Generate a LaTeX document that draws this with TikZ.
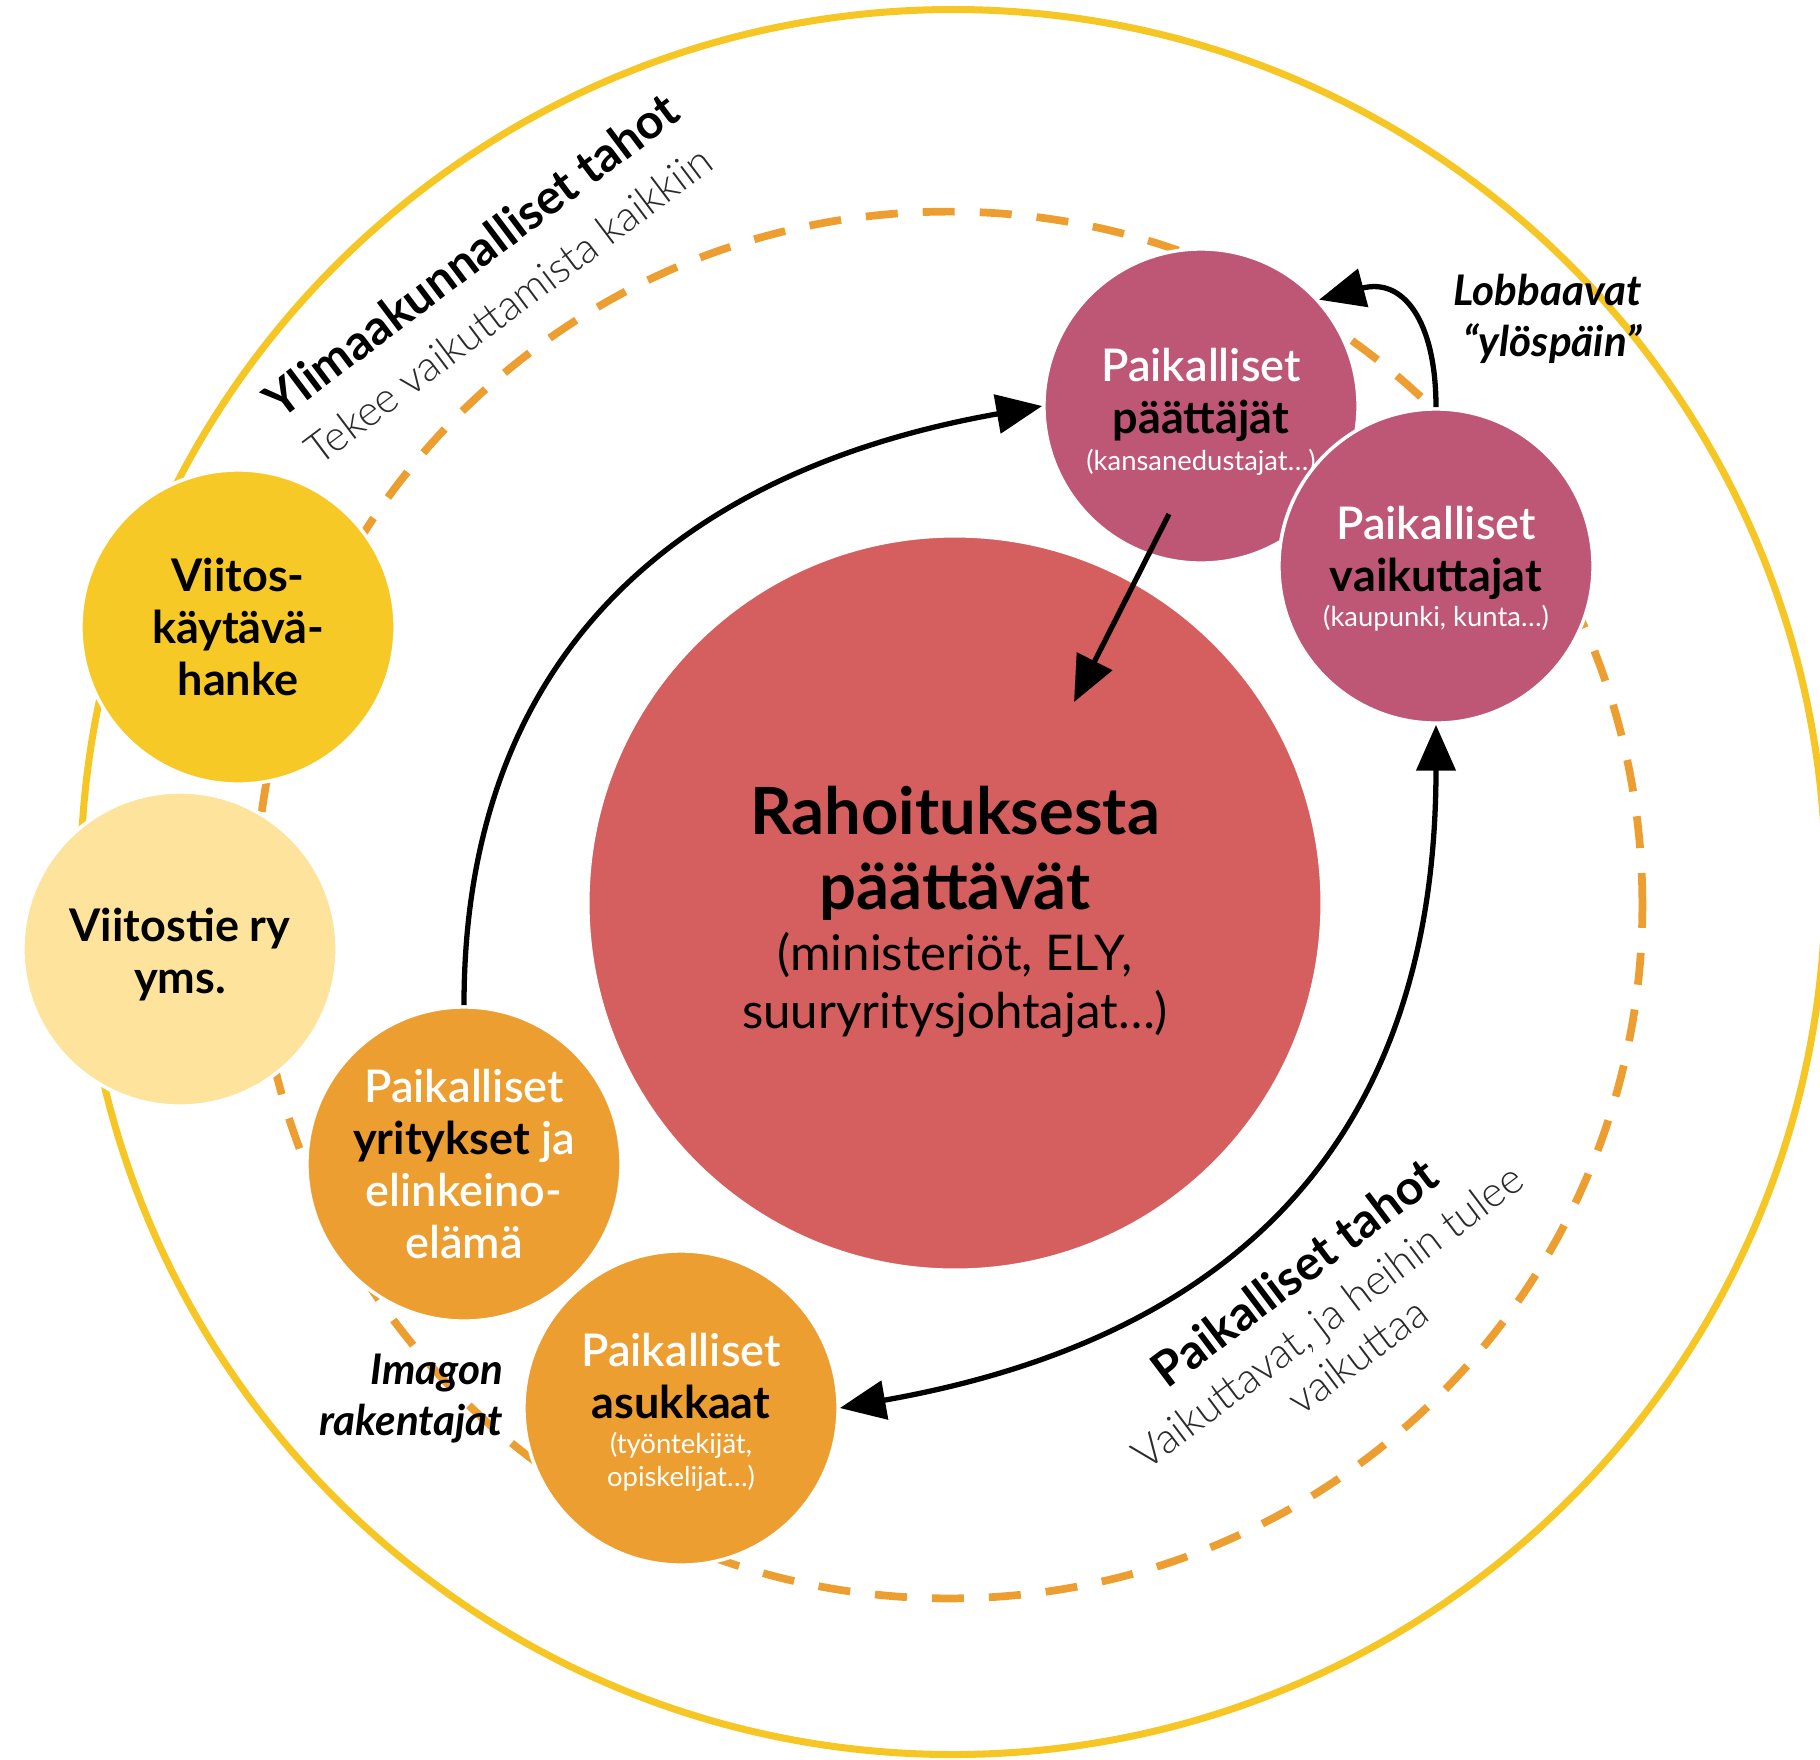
\documentclass[tikz,border=0pt]{standalone}
\usepackage{fontspec}
\setmainfont{Lato}
\IfFontExistsTF{Lato Light}{\newfontfamily\thinfont{Lato Light}}{\newcommand{\thinfont}{\mdseries}}
\IfFontExistsTF{Lato Semibold}{\newfontfamily\semifont{Lato Semibold}}{\newcommand{\semifont}{\mdseries}}
\usepackage{xcolor}
\usepackage{tikz}
\usetikzlibrary{arrows.meta}

\definecolor{rose}{HTML}{BE5676}
\definecolor{coral}{HTML}{D55E5E}
\definecolor{sun}{HTML}{F7C926}
\definecolor{pale}{HTML}{FDE39C}
\definecolor{amber}{HTML}{EC9E31}
\definecolor{rim}{HTML}{F6C724}
\definecolor{ash}{HTML}{2A2A2A}

\newcommand{\wt}[1]{{\mdseries\semifont\color{white}#1}}
\newcommand{\smalltxt}[1]{{\fontsize{7.8}{9}\selectfont\mdseries\color{white}#1}}

\begin{document}
\begin{tikzpicture}[x=0.01cm,y=0.01cm,->,>={Triangle[length=13pt,width=11pt]},
            line width=1.5pt]
        \tikzstyle{ball}=[circle,draw=white,line width=1pt,minimum size=3.14cm,inner sep=0pt,
            align=center,text=black,font=\fontsize{12.8}{14.8}\selectfont\bfseries]
        \tikzstyle{tag}=[align=right,anchor=east,inner sep=0pt,font=\fontsize{12}{14.5}\selectfont\bfseries\itshape]

        \useasboundingbox (0,0) rectangle (1820,-1759);

        % rings
        \draw[-,rim,line width=2pt] (953,-882) circle[radius=8.72cm];
        \draw[-,amber,line width=2.2pt,dash pattern=on 0.32cm off 0.25cm] (949,-905) circle[radius=6.93cm];

        % ring labels
        \node[rotate=37,align=center,font=\fontsize{12}{17}\selectfont] (N) at (489,-279)
            {{\fontsize{13.7}{17}\selectfont\bfseries Ylimaakunnalliset tahot}\\
             {\thinfont\color{ash}Tekee vaikuttamista kaikkiin}};
        \node[rotate=37,align=center,font=\fontsize{12}{14}\selectfont] (L) at (1325,-1313)
            {{\fontsize{13.7}{14}\selectfont\bfseries Paikalliset tahot}\\[1pt]
             {\thinfont\color{ash}Vaikuttavat, ja heihin tulee}\\
             {\thinfont\color{ash}vaikuttaa}};
        \node[tag] (U) at (1644,-319) {Lobbaavat\\``ylöspäin''};
        \node[tag] (I) at (506,-1399) {Imagon\\rakentajat};

        % circles
        \node[ball,fill=coral,minimum size=7.34cm,font=\fontsize{18.5}{21.5}\selectfont\bfseries] (R) at (955,-903)
            {\rule{0pt}{18.5pt}Rahoituksesta\\päättävät\\[-4.35pt]
             {\fontsize{14}{16.5}\selectfont\mdseries (ministeriöt, ELY,}\\[-5pt]
             {\fontsize{14}{16.5}\selectfont\mdseries suuryritysjohtajat…)}};
        \node[ball,fill=rose] (P) at (1201,-406)
            {\rule{0pt}{12.8pt}\wt{Paikalliset}\\päättäjät\\[-4.5pt]\smalltxt{(kansanedustajat…)}};
        \node[ball,fill=rose] (K) at (1436,-566)
            {\rule{0pt}{11.2pt}\wt{Paikalliset}\\vaikuttajat\\[-4.85pt]\smalltxt{(kaupunki, kunta…)}};
        \node[ball,fill=sun] (H) at (238,-627) {Viitos-\\käytävä-\\hanke};
        \node[ball,fill=pale] (S) at (180,-949) {\rule{0pt}{12.5pt}Viitostie ry\\yms.};
        \node[ball,fill=amber] (E) at (464,-1164)
            {\wt{Paikalliset}\\yritykset \wt{ja}\\\wt{elinkeino-}\\\wt{elämä}};
        \node[ball,fill=amber] (A) at (681,-1408)
            {\rule{0pt}{11.8pt}\wt{Paikalliset}\\asukkaat\\[-4.8pt]\smalltxt{(työntekijät,}\\[-5.6pt]\smalltxt{opiskelijat…)}};

        % arrows
        \coordinate (p1) at (1169,-514);
        \coordinate (p2) at (1074,-702);
        \path (E.north) edge[out=90,in=190,looseness=1.1] (P.west)
              (A.east) edge[<->,out=10,in=-90,looseness=1.15] (K.south)
              (K.north) edge[out=90,in=15,looseness=1.4] (P.42)
              (p1) edge (p2);
    \end{tikzpicture}
\end{document}
